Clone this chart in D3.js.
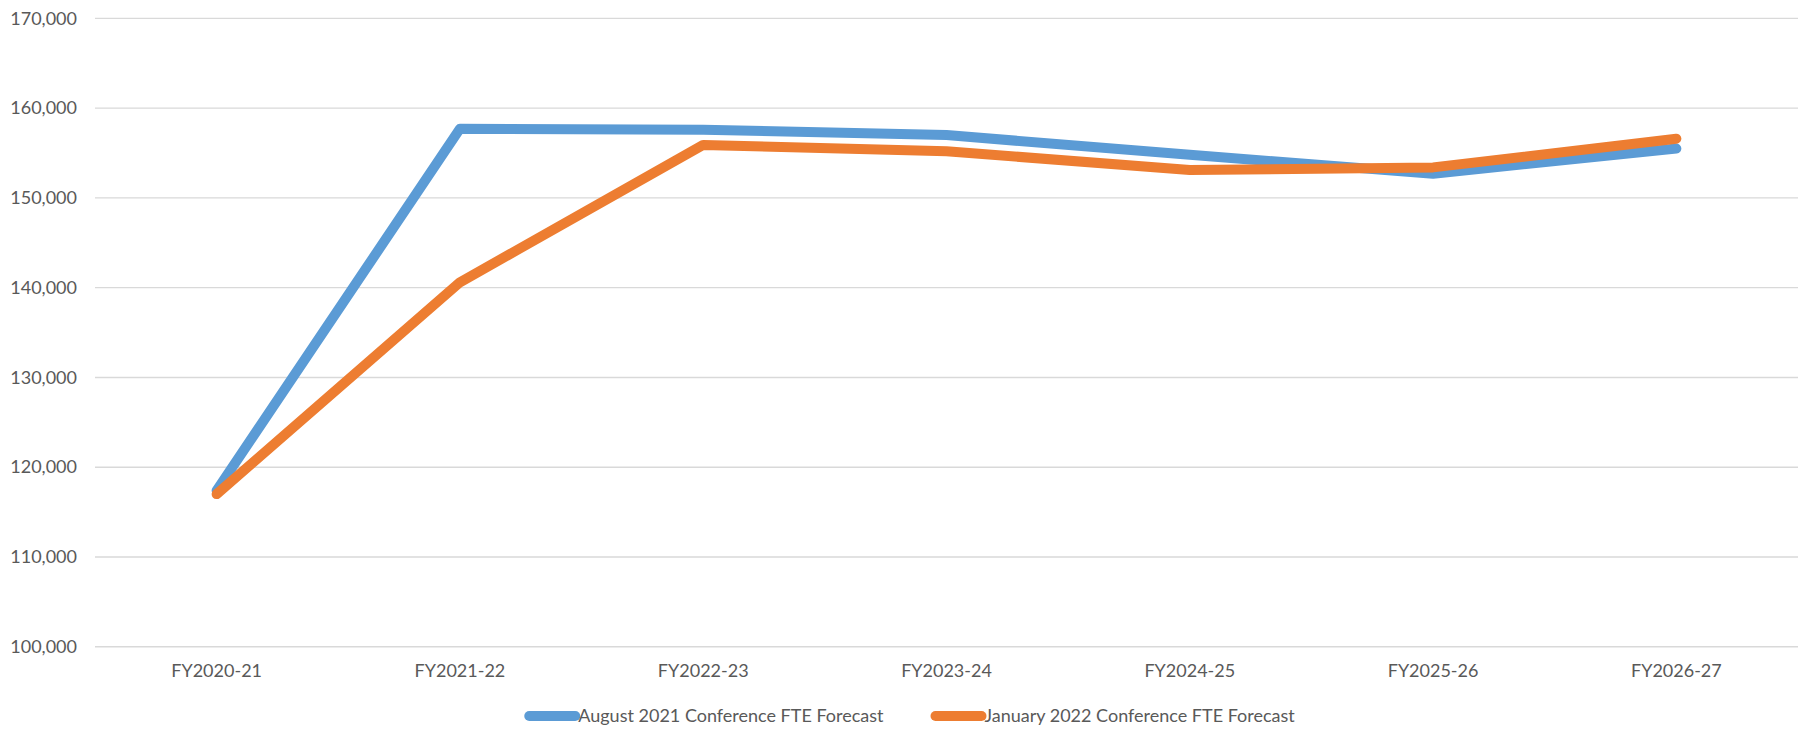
<!DOCTYPE html>
<html><head><meta charset="utf-8">
<script src="https://cdn.jsdelivr.net/npm/d3@7"></script>
<style>
html,body{margin:0;padding:0;background:#fff;}
svg{display:block;}
text{font-family:Lato,"Open Sans",sans-serif;fill:#595959;}
</style></head>
<body>
<svg id="chart" width="1801" height="729"></svg>
<script>
const categories = ["FY2020-21","FY2021-22","FY2022-23","FY2023-24","FY2024-25","FY2025-26","FY2026-27"];
const augustForecast = [117400,157700,157600,157000,154800,152700,155500];
const januaryForecast = [117000,140600,155900,155200,153100,153400,156600];
const seriesNames = ["August 2021 Conference FTE Forecast","January 2022 Conference FTE Forecast"];
const seriesColors = ["#5B9BD5","#ED7D31"];
const yTicks = [100000,110000,120000,130000,140000,150000,160000,170000];

(function(){
const svg = d3.select("#chart");
const pLeft = 95, pRight = 1798, pTop = 18.4, pBottom = 646.7;
const x = d3.scaleBand().domain(categories).range([pLeft,pRight]).paddingInner(0).paddingOuter(0);
const y = d3.scaleLinear().domain([100000,170000]).range([pBottom,pTop]);
const fs = 18;

svg.append("g").selectAll("line").data(yTicks).join("line")
  .attr("x1",pLeft).attr("x2",pRight)
  .attr("y1",d=>y(d)).attr("y2",d=>y(d))
  .attr("stroke","#d9d9d9").attr("stroke-width",1.4);

const yAxis = d3.axisLeft(y).tickValues(yTicks).tickFormat(d3.format(",")).tickSize(0).tickPadding(18);
const gy = svg.append("g").attr("transform",`translate(${pLeft},0)`).call(yAxis);
gy.select(".domain").remove();
gy.selectAll("text").attr("font-size",fs).attr("font-family","Lato").attr("fill","#595959");

const xAxis = d3.axisBottom(x).tickSize(0).tickPadding(18);
const gx = svg.append("g").attr("transform",`translate(0,${pBottom})`).call(xAxis);
gx.select(".domain").remove();
gx.selectAll("text").attr("font-size",fs).attr("font-family","Lato").attr("fill","#595959");

const line = d3.line().x((d,i)=>x(categories[i])+x.bandwidth()/2).y(d=>y(d));
[augustForecast,januaryForecast].forEach((s,i)=>{
  svg.append("path").datum(s).attr("d",line)
    .attr("fill","none").attr("stroke",seriesColors[i]).attr("stroke-width",10)
    .attr("stroke-linecap","round").attr("stroke-linejoin","round");
});

const legY = 716;
const lg = svg.append("g");
const items = seriesNames.map((n,i)=>{
  const g = lg.append("g");
  g.append("line").attr("x1",0).attr("x2",46).attr("y1",0).attr("y2",0)
    .attr("stroke",seriesColors[i]).attr("stroke-width",10).attr("stroke-linecap","round");
  const t = g.append("text").attr("x",49).attr("y",6).attr("font-size",fs).text(n);
  return {g, w: 49 + t.node().getComputedTextLength()};
});
const gap = 52;
const total = items.reduce((a,b)=>a+b.w,0) + gap;
let cx = 912 - total/2;
items.forEach(it=>{ it.g.attr("transform",`translate(${cx},${legY})`); cx += it.w + gap; });
})();
</script>
</body></html>
